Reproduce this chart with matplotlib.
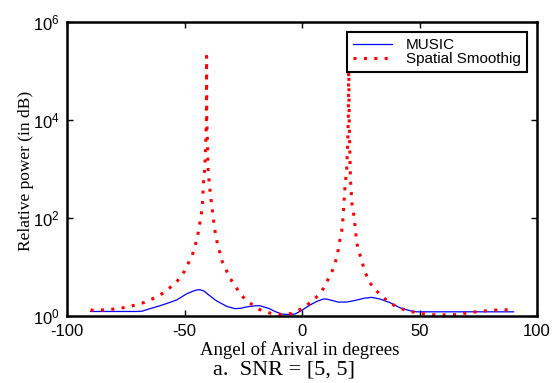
import math
import matplotlib
matplotlib.use("Agg")
import matplotlib.pyplot as plt
from matplotlib.ticker import FixedLocator, FuncFormatter, NullLocator

# ---- data ----
music_angle = [-90, -80, -70, -68, -64.7, -60.4, -56.2, -53.3, -49.1, -46.5, -44.8, -43.4,
               -41.5, -39.9, -36.3, -32, -28.5, -26, -24, -22, -19.3, -17.9, -14,
               -11.5, -8.6, -6, -3, -0.1, 2, 3.4, 5.5, 6.3, 9.1, 10.5, 11.9, 15.4,
               19, 22.6, 26.1, 29.7, 33.2, 37.4, 41.7, 46, 48.8, 60, 70, 80, 90]
music_power = [1.22, 1.22, 1.22, 1.24, 1.39, 1.6, 1.87, 2.1, 2.8, 3.15, 3.35, 3.4,
               3.15, 2.7, 2.0, 1.55, 1.39, 1.42, 1.5, 1.55, 1.6, 1.6, 1.4,
               1.22, 1.08, 1.06, 1.08, 1.28, 1.5, 1.65, 1.87, 1.96, 2.19, 2.19, 2.1, 1.9,
               1.9, 2.05, 2.26, 2.37, 2.19, 1.85, 1.45, 1.26, 1.2, 1.2, 1.2, 1.2, 1.2]

ss_angle = [-90, -85, -80, -75, -71, -66.5, -62.5, -58.7, -55.2, -52.1, -50.1, -48.5,
            -46.8, -45.7, -44.8, -44.0, -43.4, -42.8, -42.4, -42.2, -42.0, -41.8,
            -41.4, -41.0, -40.7, -40.6, -40.5, -40.2, -39.9, -39.4, -39.0, -38.5,
            -37.7, -37.3, -36.5, -35.9, -34.8, -34.0, -32.3, -30.9, -28.6, -26.7,
            -24.0, -20.6, -18.0, -13.6, -8.9, -4.4, -0.1, 3.5, 6.8, 9.1, 10.9, 12.5,
            13.9, 14.8, 15.6, 16.2, 16.9, 17.3, 17.6, 17.8, 18.3, 19.0, 19.4, 19.7,
            19.9, 20.1, 20.3, 20.6, 21.0, 21.3, 22.1, 22.4, 22.8, 23.2, 23.8, 25.0,
            26.0, 27.1, 28.6, 30.5, 33.9, 37.0, 40.5, 44.3, 49.5, 54.5, 60.0, 65.8,
            70.8, 75.5, 80.3, 85.0, 90.0]
ss_power = [1.30, 1.31, 1.37, 1.48, 1.65, 1.9, 2.35, 2.97, 4.1, 5.7, 8.0, 11.5,
            16.7, 24.5, 36, 54, 82, 122, 185, 280, 430, 660,
            1000, 3000, 1.0e4, 2.0e5, 1.0e4, 3000, 800, 500, 300, 200,
            94, 62, 41, 27, 18.5, 13, 8.7, 6.1, 4.2, 3.0,
            2.1, 1.6, 1.33, 1.13, 1.06, 1.11, 1.39, 1.85, 2.56, 3.6, 5.3, 7.4,
            11, 16, 24.5, 37, 54, 82, 125, 187, 435, 950, 3000, 1.0e4,
            2.0e5, 1.0e4, 3000, 630, 300, 187, 110, 80, 52, 34, 23, 15.8,
            10.6, 7.3, 5.0, 3.6, 2.56, 1.87, 1.5, 1.28, 1.13, 1.05, 1.04, 1.05,
            1.15, 1.22, 1.28, 1.33, 1.3]

x_ticks = [-100, -50, 0, 50, 100]
y_ticks = [1e0, 1e2, 1e4, 1e6]
legend_labels = ["MUSIC", "Spatial Smoothig"]
x_label = "Angel of Arival in degrees"
y_label = "Relative power (in dB)"
caption = "a.  SNR = [5, 5]"

SANS = ["Liberation Sans", "DejaVu Sans"]
SERIF = ["Liberation Serif", "DejaVu Serif"]
plt.rcParams["font.family"] = SANS
plt.rcParams["axes.unicode_minus"] = False

fig = plt.figure(figsize=(5.59, 3.83), dpi=100)
ax = fig.add_axes([67 / 559, 1 - 315.7 / 383, 470 / 559, (315.7 - 22) / 383])

ax.plot(music_angle, music_power, color="#0000ff", lw=0.9, label=legend_labels[0])
ax.plot(ss_angle, ss_power, color="#ff0000", lw=2.2, linestyle=(0, (1, 2.4)),
        label=legend_labels[1])

ax.set_yscale("log")
ax.set_xlim(-100, 100)
ax.set_ylim(1, 1e6)
ax.xaxis.set_major_locator(FixedLocator(x_ticks))
ax.yaxis.set_major_locator(FixedLocator(y_ticks))
ax.yaxis.set_minor_locator(NullLocator())
ax.yaxis.set_major_formatter(FuncFormatter(lambda v, p: r"$\mathregular{10^{%d}}$" % round(math.log10(v))))
ax.tick_params(direction="in", length=4, width=1, top=True, right=True,
               labelsize=12, colors="black")
ax.tick_params(axis="x", pad=6)
ax.tick_params(axis="y", pad=5)
for s in ax.spines.values():
    s.set_linewidth(1.8)
    s.set_color("black")

leg = ax.legend(loc="upper right", bbox_to_anchor=(0.979, 0.966), borderaxespad=0,
                fancybox=False, framealpha=1, edgecolor="black", fontsize=11,
                handlelength=2.6, handletextpad=0.9, borderpad=0.4, labelspacing=0.0)
leg.get_frame().set_linewidth(1.5)

fig.text(26 / 559, 1 - 171 / 383, y_label, rotation=90, ha="center", va="center",
         family=SERIF, fontsize=12.5)
fig.text(300 / 559, 1 - 355 / 383, x_label, ha="center", va="baseline",
         family=SERIF, fontsize=13.5)
fig.text(284 / 559, 1 - 370 / 383, caption, ha="center", va="center",
         family=SERIF, fontsize=16)

fig.savefig("out.png", dpi=100)
